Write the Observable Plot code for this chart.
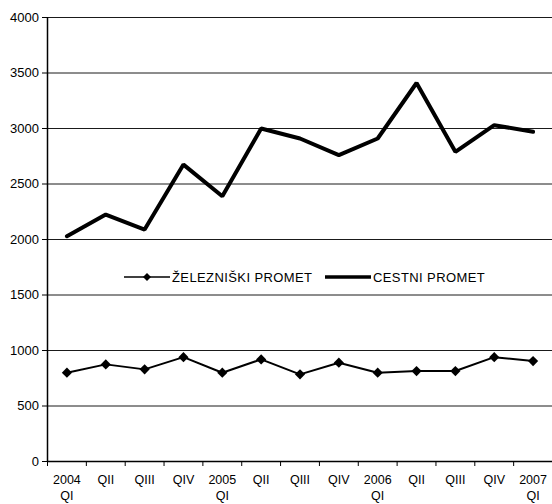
<!DOCTYPE html>
<html>
<head>
<meta charset="utf-8">
<script src="https://cdn.jsdelivr.net/npm/d3@7"></script>
<script src="https://cdn.jsdelivr.net/npm/@observablehq/plot@0.6"></script>
<style>
  html, body { margin: 0; padding: 0; background: #fff; }
  #wrap { position: relative; width: 552px; height: 504px; font-family: "Liberation Sans", Arial, sans-serif; color: #000; }
  #chart svg { display: block; }
  #legend { position: absolute; left: 0; top: 268px; width: 552px; height: 18px; pointer-events: none; }
  #legend .item { position: absolute; top: 0; height: 18px; display: flex; align-items: center; font-size: 13px; letter-spacing: 0.4px; white-space: nowrap; }
  #legend svg { display: block; }
</style>
</head>
<body>
<div id="wrap">
  <div id="chart"></div>
  <div id="legend"></div>
</div>
<script>
// Category labels (quarters)
const quarters = ["2004\nQI", "QII", "QIII", "QIV", "2005\nQI", "QII", "QIII", "QIV", "2006\nQI", "QII", "QIII", "QIV", "2007\nQI"];
// Series values
const railValues = [800, 875, 830, 940, 800, 920, 785, 890, 800, 815, 815, 940, 905];
const roadValues = [2030, 2225, 2090, 2675, 2390, 3000, 2910, 2760, 2910, 3410, 2790, 3030, 2970];
// Y tick values
const yTicks = [0, 500, 1000, 1500, 2000, 2500, 3000, 3500, 4000];
// Series names
const railName = "ŽELEZNIŠKI PROMET";
const roadName = "CESTNI PROMET";

const idx = quarters.map((_, i) => i);
const rail = railValues.map((v, i) => ({i, v}));
const road = roadValues.map((v, i) => ({i, v}));
// category boundaries (between-category tick marks)
const boundaries = d3.range(quarters.length + 1).map(i => i - 0.5);

const font = "'Liberation Sans', Arial, sans-serif";

const chart = Plot.plot({
  width: 552,
  height: 504,
  marginLeft: 47,
  marginRight: 0,
  marginTop: 17,
  marginBottom: 43,
  style: {fontFamily: font, color: "#000", background: "#fff", overflow: "visible"},
  x: {type: "linear", domain: [-0.5, quarters.length - 0.5], axis: null},
  y: {domain: [0, 4000], axis: null},
  marks: [
    Plot.gridY(yTicks, {stroke: "#1a1a1a", strokeOpacity: 1, strokeWidth: 1}),
    Plot.axisY(yTicks, {tickSize: 5, tickPadding: 3.5, fontSize: 13, label: null, stroke: "#000", fill: "#000", tickFormat: d3.format("d")}),
    Plot.ruleX([-0.5], {stroke: "#000", strokeWidth: 1.5}),
    Plot.ruleY([0], {stroke: "#000", strokeWidth: 1.5}),
    Plot.axisX(boundaries, {tickSize: 5, tickFormat: () => "", label: null, stroke: "#000"}),
    Plot.axisX(idx, {tickSize: 0, tickPadding: 11, tickFormat: i => quarters[i], fontSize: 12.5, lineHeight: 1.3, label: null, fill: "#000"}),
    Plot.line(road, {x: "i", y: "v", stroke: "#000", strokeWidth: 4, strokeLinejoin: "miter"}),
    Plot.line(rail, {x: "i", y: "v", stroke: "#000", strokeWidth: 2}),
    Plot.dot(rail, {x: "i", y: "v", symbol: "diamond2", r: 4.6, fill: "#000", stroke: "none"})
  ]
});
document.getElementById("chart").appendChild(chart);

// Legend (inside the plot area, as in the reference)
const legend = document.getElementById("legend");
function addItem(left, swatchSvg, name) {
  const div = document.createElement("div");
  div.className = "item";
  div.style.left = left + "px";
  div.innerHTML = swatchSvg + `<span style="margin-left:2px">${name}</span>`;
  legend.appendChild(div);
}
addItem(124,
  `<svg width="46" height="18"><line x1="0" y1="9" x2="46" y2="9" stroke="#000" stroke-width="1.6"/><path d="M23,5 L27,9 L23,13 L19,9 Z" fill="#000"/></svg>`,
  railName);
addItem(325,
  `<svg width="46" height="18"><line x1="0" y1="9" x2="46" y2="9" stroke="#000" stroke-width="3.5"/></svg>`,
  roadName);
</script>
</body>
</html>
